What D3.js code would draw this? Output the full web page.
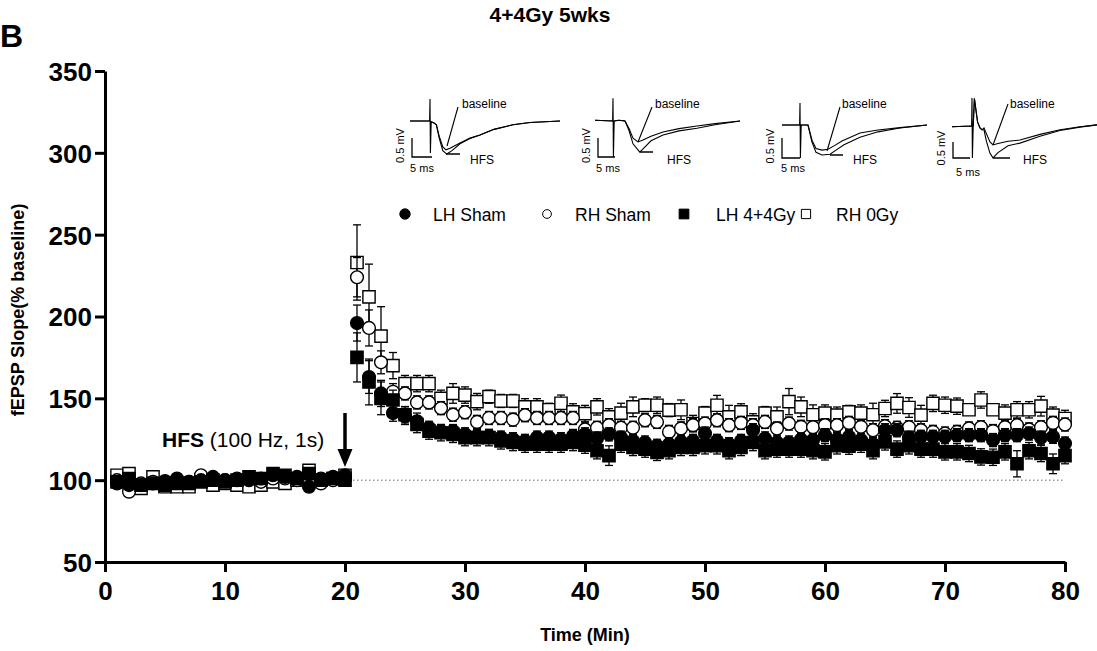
<!DOCTYPE html>
<html><head><meta charset="utf-8">
<script src="https://cdn.jsdelivr.net/npm/d3@7"></script>
<style>body{margin:0;background:#fff;} svg{display:block;font-family:"Liberation Sans",Arial,sans-serif;}</style>
</head><body><svg id="c" width="1097" height="651"></svg>
<script>
// ---------------- DATA ----------------
const minutes = [1,2,3,4,5,6,7,8,9,10,11,12,13,14,15,16,17,18,19,20,
  21,22,23,24,25,26,27,28,29,30,31,32,33,34,35,36,37,38,39,40,
  41,42,43,44,45,46,47,48,49,50,51,52,53,54,55,56,57,58,59,60,
  61,62,63,64,65,66,67,68,69,70,71,72,73,74,75,76,77,78,79,80];
const seriesNames = ["LH Sham","RH Sham","LH 4+4Gy","RH 0Gy"];
const lhSham = [98,97,97,98,99,101,99,100,102,100,101,100,101,103,102,102,96,101,102,103,
  196,163,153,141,139,136,132,130,130,128,127,127,126,125,124,126,126,125,127,128,
  125.5,128,126,124,123,121,122,123.4,124,128.5,124,122,124,130.5,125.5,123,123,124.8,124.5,127.5,
  125,126.5,124.5,122,130.5,130.5,126,126.5,126.5,126.5,127.5,127.5,127.5,124.5,127.5,127.5,128.5,126,126.5,122.4];
const lhShamSem = [2,3,2,2,2,2,2,2,2,2,2,2,2,2,2,2,3,2,2,2,
  11,10,8,5,5,5,4,4,4,4,4,4,4,4,4,4,4,4,4,4,
  4,4,4,4,4,4,4,4,4,4,4,4,4,4,4,4,4,4,4,4,
  4,4,4,4,4,4,4,4,4,4,4,4,4,4,4,4,4,4,4,4];
const rhSham = [100,93,98,99,99.5,99,99,103,101,100,100,101,99,101,101,100,100,98,100,101,
  224,193,172,154,153,147.5,147.5,144,140,141.5,135.6,138,138,137,139.7,138,138,138,138,131,
  132,133.6,132,132,136.6,135.6,129.5,131.6,133.6,134.6,136.6,133.6,135,133.6,135.6,131.6,134.6,132.6,132.3,133.6,
  133.6,135,132.6,130.5,133,132,132.3,130.5,129.5,128.5,129.5,131.6,132.3,130,132.3,133.6,131,132.3,135,134];
const rhShamSem = [2,3,2,2,2,2,2,2,2,2,2,2,2,2,2,2,3,2,2,2,
  12,11,7,5,4,4,4,4,4,4,4,4,4,4,4,4,4,4,4,4,
  4,4,4,4,4,4,4,4,4,4,4,4,4,4,4,4,4,4,4,4,
  4,4,4,4,4,4,4,4,4,4,4,4,4,4,4,4,4,4,4,4];
const lh44 = [99,101,97,98,97,98,98,99,100,99,100,102,101,104,103,101,104,100,101,100,
  175,160,150,149,140,134,130,129,128,126,126,126,124,123,122,122,122,122,123,121.4,
  118,115,122,120,119,117,118,120,120,121,121,118,120,123,118,119,119,119,118,117.3,
  121,120.8,122,118,123.4,119,121,119,119,117.3,117.3,116.3,114.2,114,117.3,110,118,116.3,110,115];
const lh44Sem = [2,2,2,2,2,2,2,2,2,2,2,2,2,2,2,2,3,2,2,2,
  15,14,10,6,5,5,5,5,5,5,5,5,5,5,5,5,5,5,5,5,
  5,6,5,5,5,5,5,5,5,5,5,5,5,5,5,5,5,5,5,5,
  5,5,5,5,5,5,5,5,5,5,5,5,5,5,5,8,5,5,6,5];
const rh0 = [103,104,95,102,96,96,96,100,97,98,97,96,97,99,98,100,106,100,101,103,
  233,212,188,170,159,159,159,150,153,152,148,151,148.4,148.4,144.8,144.8,143,147,141.7,140.7,
  144.8,138.7,141,144.8,145.8,145.8,142.8,143,134.6,141,145.8,138.7,141.7,135.6,141,138.7,148,144.8,140,141,
  139.7,141.7,141,140,143.8,146.9,144.4,139.7,146.9,145.8,145.2,143,149,143,141,143,143,145.2,139.7,137.7];
const rh0Sem = [3,3,2,2,2,2,2,2,2,2,2,2,2,2,2,2,3,2,2,2,
  23,20,18,8,5,5,5,5,6,5,5,4,4,4,5,5,4,5,5,5,
  5,5,6,6,4,5,4,6,5,4,6,7,5,5,4,6,8,6,6,5,
  5,4,5,7,5,6,6,6,5,5,5,3,5,3,5,5,5,6,5,5];
const xTicks = [0,10,20,30,40,50,60,70,80];
const yTicks = [50,100,150,200,250,300,350];
const hfsMinute = 20;
const baselineLevel = 100;

// inset traces: [time ms, mV]
const trace1Base = [[0,0],[4.9,0],[5,0.58],[5.1,-0.84],[5.3,-0.02],[6,-0.05],[6.6,-0.1],[7.3,-0.4],[8.2,-0.68],[9,-0.76],[10,-0.72],[12.5,-0.58],[15,-0.45],[17.5,-0.37],[21,-0.22],[25.7,-0.1],[30,-0.04],[37.5,0]];
const trace1Hfs = [[0,0],[4.9,0],[5.3,-0.02],[6,-0.05],[6.6,-0.1],[7.3,-0.45],[8.2,-0.78],[9.2,-0.87],[10.5,-0.78],[12.5,-0.6],[15,-0.46],[17.5,-0.37],[21,-0.22],[25.7,-0.1],[30,-0.04],[37.5,0]];
const trace2Base = [[0,0.02],[4.4,0],[4.5,0.6],[4.6,-0.95],[4.8,0],[6,0.02],[7.5,0],[8.5,-0.2],[9.5,-0.45],[10.75,-0.55],[12,-0.5],[14,-0.4],[17,-0.29],[21,-0.2],[25.5,-0.13],[30,-0.07],[36.25,0]];
const trace2Hfs = [[0,0.02],[4.4,0],[4.8,0],[6,0.02],[7.5,0],[8.5,-0.25],[9.5,-0.6],[11.2,-0.82],[12.5,-0.68],[14,-0.52],[17,-0.37],[21,-0.26],[25.5,-0.19],[30,-0.1],[36.25,0]];
const trace3Base = [[0,0],[4.4,0],[4.5,0.58],[4.6,-0.87],[4.8,0],[6.5,0],[7.5,-0.4],[8.5,-0.62],[10,-0.66],[11.5,-0.64],[13,-0.55],[15,-0.42],[19.5,-0.21],[24,-0.13],[29.5,-0.07],[36.25,0]];
const trace3Hfs = [[0,0],[4.4,0],[4.8,0],[6.5,0],[7.5,-0.45],[8.5,-0.72],[10,-0.79],[12,-0.77],[13.5,-0.66],[15.5,-0.52],[19.5,-0.32],[24,-0.18],[29.5,-0.08],[36.25,0]];
const trace4Base = [[0,-0.02],[4.9,0],[5,0.74],[5.1,-0.84],[5.3,0],[5.6,0.72],[6.4,0.1],[7,-0.05],[7.5,-0.1],[8,-0.05],[8.6,-0.2],[9.5,-0.42],[10.25,-0.5],[11.5,-0.46],[14,-0.4],[17,-0.37],[22,-0.22],[27,-0.1],[32,-0.02],[36.25,0.03]];
const trace4Hfs = [[0,-0.02],[4.9,0],[5.3,0],[5.6,0.72],[6.4,0.1],[7,-0.05],[7.5,-0.1],[8,-0.1],[8.6,-0.4],[9.5,-0.72],[10.25,-0.84],[11.5,-0.7],[14,-0.52],[17,-0.45],[22,-0.27],[27,-0.12],[32,-0.03],[36.25,0.03]];

// ---------------- CHART ----------------
const svg = d3.select("#c");
const x = d3.scaleLinear().domain([0,80]).range([105,1065]);
const y = d3.scaleLinear().domain([50,350]).range([562,71]);

// labels
svg.append("text").attr("x",0).attr("y",47).attr("font-size",32).attr("font-weight","bold").text("B");
svg.append("text").attr("x",550).attr("y",22).attr("text-anchor","middle").attr("font-size",21).attr("font-weight","bold").text("4+4Gy 5wks");
svg.append("text").attr("transform","translate(24,310) rotate(-90)").attr("text-anchor","middle")
  .attr("font-size",18).attr("font-weight","bold").text("fEPSP Slope(% baseline)");
svg.append("text").attr("x",585).attr("y",641).attr("text-anchor","middle").attr("font-size",18).attr("font-weight","bold").text("Time (Min)");

// dotted baseline
svg.append("line").attr("x1",x(hfsMinute)).attr("x2",x(80)).attr("y1",y(baselineLevel)).attr("y2",y(baselineLevel))
  .attr("stroke","#999").attr("stroke-width",1.5).attr("stroke-dasharray","1.5,2.5");

// axes
const yAxis = svg.append("g").attr("transform","translate(105,0)")
  .call(d3.axisLeft(y).tickValues(yTicks).tickSize(10).tickSizeOuter(0).tickPadding(3));
const xAxis = svg.append("g").attr("transform","translate(0,562)")
  .call(d3.axisBottom(x).tickValues(xTicks).tickSize(10).tickSizeOuter(0).tickPadding(10));
[yAxis,xAxis].forEach(g=>{
  g.select(".domain").attr("stroke-width",3).attr("stroke","#000");
  g.selectAll(".tick line").attr("stroke-width",3).attr("stroke","#000");
  g.selectAll(".tick text").attr("font-size",26).attr("font-weight","bold").attr("fill","#000")
    .attr("font-family","'Liberation Sans',Arial,sans-serif");
});
yAxis.selectAll(".tick text").attr("dy","0.36em");

// data series
const series = [
  {name:"RH 0Gy", vals:rh0, sem:rh0Sem, shape:"square", filled:false},
  {name:"RH Sham", vals:rhSham, sem:rhShamSem, shape:"circle", filled:false},
  {name:"LH Sham", vals:lhSham, sem:lhShamSem, shape:"circle", filled:true},
  {name:"LH 4+4Gy", vals:lh44, sem:lh44Sem, shape:"square", filled:true}
];
const capW = 4;
series.forEach(s=>{
  const g = svg.append("g");
  const pts = minutes.map((m,i)=>({m, v:s.vals[i], e:s.sem[i]}));
  const eb = g.selectAll(".eb").data(pts).enter().append("g");
  eb.append("line").attr("x1",d=>x(d.m)).attr("x2",d=>x(d.m)).attr("y1",d=>y(d.v+d.e)).attr("y2",d=>y(d.v-d.e))
    .attr("stroke","#000").attr("stroke-width",1.3);
  eb.append("line").attr("x1",d=>x(d.m)-capW).attr("x2",d=>x(d.m)+capW).attr("y1",d=>y(d.v+d.e)).attr("y2",d=>y(d.v+d.e))
    .attr("stroke","#000").attr("stroke-width",1.3);
  eb.append("line").attr("x1",d=>x(d.m)-capW).attr("x2",d=>x(d.m)+capW).attr("y1",d=>y(d.v-d.e)).attr("y2",d=>y(d.v-d.e))
    .attr("stroke","#000").attr("stroke-width",1.3);
  const sym = d3.symbol().type(s.shape==="circle"?d3.symbolCircle:d3.symbolSquare).size(s.shape==="circle"?128:150);
  g.selectAll(".m").data(pts).enter().append("path").attr("d",sym)
    .attr("transform",d=>`translate(${x(d.m)},${y(d.v)})`)
    .attr("fill",s.filled?"#000":"#fff").attr("stroke","#000").attr("stroke-width",1.4);
});

// HFS annotation
const hfsT = svg.append("text").attr("x",162).attr("y",447).attr("font-size",21);
hfsT.append("tspan").attr("font-weight","bold").text("HFS");
hfsT.append("tspan").text(" (100 Hz, 1s)");
const ax = x(hfsMinute);
svg.append("line").attr("x1",ax).attr("x2",ax).attr("y1",413).attr("y2",452).attr("stroke","#000").attr("stroke-width",3.5);
svg.append("path").attr("d",`M${ax-7.5},449 L${ax+7.5},449 L${ax},467 Z`).attr("fill","#000");

// legend
const legendItems = [
  {name:seriesNames[0], shape:"circle", filled:true, mx:405, tx:433},
  {name:seriesNames[1], shape:"circle", filled:false, mx:547, tx:575},
  {name:seriesNames[2], shape:"square", filled:true, mx:684, tx:716},
  {name:seriesNames[3], shape:"square", filled:false, mx:806, tx:836}
];
legendItems.forEach(l=>{
  const sym = d3.symbol().type(l.shape==="circle"?d3.symbolCircle:d3.symbolSquare).size(l.shape==="circle"?(l.filled?85:60):(l.filled?95:85));
  svg.append("path").attr("d",sym).attr("transform",`translate(${l.mx},214)`)
    .attr("fill",l.filled?"#000":"#fff").attr("stroke","#000").attr("stroke-width",1);
  svg.append("text").attr("x",l.tx).attr("y",221).attr("font-size",17.5).attr("textLength",null).text(l.name);
});

// inset traces
const insets = [
  {base:trace1Base, hfs:trace1Hfs, x0:410, y0:121, sbx:412, sbTop:138, sbBot:157, sbW:20, mvx:404, msx:422, msy:172, blx:462, bl1:[458,107], bl2:[447,146], hx:470, hl:[446,460], hy:154},
  {base:trace2Base, hfs:trace2Hfs, x0:595, y0:121, sbx:598, sbTop:138, sbBot:157, sbW:17, mvx:590, msx:608, msy:172, blx:655, bl1:[652,107], bl2:[638,142], hx:667, hl:[640,653], hy:152},
  {base:trace3Base, hfs:trace3Hfs, x0:782, y0:125, sbx:782, sbTop:138, sbBot:158, sbW:18, mvx:774, msx:793, msy:172, blx:842, bl1:[840,107], bl2:[827,151], hx:853, hl:[830,843], hy:155},
  {base:trace4Base, hfs:trace4Hfs, x0:952, y0:126, sbx:953, sbTop:142, sbBot:158, sbW:17, mvx:945, msx:968, msy:176, blx:1010, bl1:[1008,104], bl2:[993,145], hx:1023, hl:[993,1010], hy:158}
];
insets.forEach(ins=>{
  const tx = d3.scaleLinear().domain([0,1]).range([ins.x0, ins.x0+4]);
  const ty = d3.scaleLinear().domain([0,1]).range([ins.y0, ins.y0-38]);
  const line = d3.line().x(d=>tx(d[0])).y(d=>ty(d[1])).curve(d3.curveLinear);
  const g = svg.append("g").attr("fill","none").attr("stroke","#000").attr("stroke-width",1.1);
  g.append("path").attr("d",line(ins.hfs));
  g.append("path").attr("d",line(ins.base));
  g.append("path").attr("d",`M${ins.sbx},${ins.sbTop}V${ins.sbBot}H${ins.sbx+ins.sbW}`).attr("stroke-width",1.3);
  g.append("line").attr("x1",ins.bl1[0]).attr("y1",ins.bl1[1]).attr("x2",ins.bl2[0]).attr("y2",ins.bl2[1]);
  g.append("line").attr("x1",ins.hl[0]).attr("x2",ins.hl[1]).attr("y1",ins.hy).attr("y2",ins.hy).attr("stroke-width",1.5);
  svg.append("text").attr("x",ins.blx).attr("y",108).attr("font-size",12).text("baseline");
  svg.append("text").attr("x",ins.hx).attr("y",164).attr("font-size",12).text("HFS");
  svg.append("text").attr("x",ins.msx).attr("y",ins.msy).attr("text-anchor","middle").attr("font-size",11).text("5 ms");
  svg.append("text").attr("transform",`translate(${ins.mvx},${(ins.sbTop+ins.sbBot)/2-2}) rotate(-90)`).attr("text-anchor","middle").attr("font-size",11).text("0.5 mV");
});
</script></body></html>
